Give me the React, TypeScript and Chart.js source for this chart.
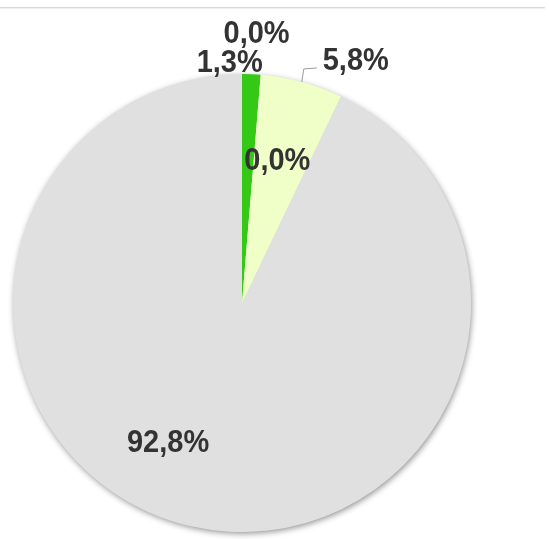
import React, { useEffect, useRef } from "react";
import { Chart, registerables } from "chart.js";

Chart.register(...registerables);

const categories = ["Categoria 1", "Categoria 2", "Categoria 3", "Categoria 4", "Categoria 5"];
const values = [1.3, 0.0, 5.8, 0.0, 92.8];
const valueLabels = ["1,3%", "0,0%", "5,8%", "0,0%", "92,8%"];
const colors = ["#35c816", "#d8f0b0", "#f0fec8", "#e8f8c0", "#e0e0e0"];

// label placement style: radius factor, pixel offsets, leader line flag
const LABEL_STYLE = [
  { f: 1.04, dx: -22, dy: 7, leader: false },
  { f: 1.1, dx: -6, dy: -9, leader: false },
  { f: 1.0, dx: 54, dy: -12, leader: true },
  { f: 0.6, dx: -24, dy: -9, leader: false },
  { f: 0.6, dx: -43.5, dy: 15, leader: false },
];

const shadowPlugin = {
  id: "pieShadow",
  beforeDatasetsDraw(chart: any) {
    const ctx = chart.ctx;
    const meta = chart.getDatasetMeta(0);
    const a = meta.data[0];
    if (!a) return;
    const p = a.getProps(["x", "y", "outerRadius"], true);
    ctx.save();
    ctx.shadowColor = "rgba(0,0,0,0.45)";
    ctx.shadowBlur = 6;
    ctx.shadowOffsetX = 1;
    ctx.shadowOffsetY = 2;
    ctx.fillStyle = "#e0e0e0";
    ctx.beginPath();
    ctx.arc(p.x, p.y, p.outerRadius - 0.5, 0, Math.PI * 2);
    ctx.fill();
    ctx.restore();
  },
};

const labelPlugin = {
  id: "pieLabels",
  afterDraw(chart: any) {
    const ctx = chart.ctx;
    const meta = chart.getDatasetMeta(0);
    meta.data.forEach((arc: any, i: number) => {
      const st = LABEL_STYLE[i];
      const p = arc.getProps(["x", "y", "startAngle", "endAngle", "outerRadius"], true);
      const mid = (p.startAngle + p.endAngle) / 2;
      const ex = p.x + Math.cos(mid) * p.outerRadius * st.f;
      const ey = p.y + Math.sin(mid) * p.outerRadius * st.f;
      ctx.save();
      if (st.leader) {
        ctx.strokeStyle = "#9a9a9a";
        ctx.lineWidth = 1;
        ctx.beginPath();
        ctx.moveTo(ex, ey);
        ctx.lineTo(ex + 2, ey - 13);
        ctx.lineTo(ex + 15, ey - 14);
        ctx.stroke();
      }
      ctx.translate(ex + st.dx, ey + st.dy);
      ctx.scale(1, 1.1);
      ctx.font = 'bold 29px "Liberation Sans", Arial, sans-serif';
      ctx.fillStyle = "#333333";
      ctx.textAlign = "center";
      ctx.textBaseline = "alphabetic";
      ctx.fillText(valueLabels[i], 0, 0);
      ctx.restore();
    });
  },
};

export default function App() {
  const ref = useRef<HTMLCanvasElement>(null);
  useEffect(() => {
    if (!ref.current) return;
    const chart = new Chart(ref.current, {
      type: "pie",
      data: {
        labels: categories,
        datasets: [
          {
            data: values,
            backgroundColor: colors,
            borderWidth: 0,
          },
        ],
      },
      options: {
        responsive: false,
        animation: false,
        layout: { padding: { left: 13, right: 78, top: 74, bottom: 7 } },
        plugins: {
          legend: { display: false },
          tooltip: { enabled: false },
        },
      },
      plugins: [shadowPlugin, labelPlugin],
    });
    return () => chart.destroy();
  }, []);
  return (
    <div style={{ position: "absolute", left: 0, top: 0, width: 549, height: 539, background: "#fff" }}>
      <div
        style={{
          position: "absolute",
          left: 0,
          top: 7,
          width: 545,
          height: 1,
          background: "#d8d8d8",
          boxShadow: "0 1px 1px rgba(0,0,0,0.08)",
        }}
      />
      <canvas ref={ref} width={549} height={539} style={{ display: "block" }} />
    </div>
  );
}
